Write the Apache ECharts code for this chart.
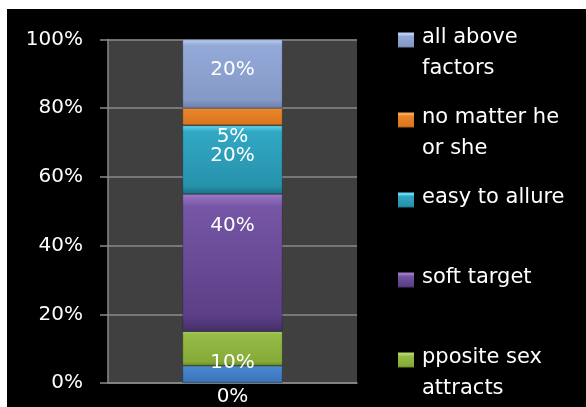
<!DOCTYPE html>
<html>
<head>
<meta charset="utf-8">
<script src="https://cdn.jsdelivr.net/npm/echarts@6/dist/echarts.min.js"></script>
<style>
  html, body { margin: 0; padding: 0; background: #fff; width: 586px; height: 407px; overflow: hidden; }
  #chart { position: absolute; left: 7px; top: 9px; width: 579px; height: 398px; background: #000; }
</style>
</head>
<body>
<div id="chart"></div>
<script>
// Single 100% stacked column, segments listed bottom to top
const categories = ['0%'];
const seriesNames = ['other', 'pposite sex\nattracts', 'soft target', 'easy to allure', 'no matter he\nor she', 'all above\nfactors'];
const otherValues = [5];
const oppositeSexValues = [10];
const softTargetValues = [40];
const easyToAllureValues = [20];
const noMatterValues = [5];
const allAboveValues = [20];
const yMin = 0, yMax = 100, yStep = 20;

const FONT = 'DejaVu Sans';

// bevelled look: light top edge, darker bottom edge
function bevel(c, s) {
  s = s || 1;
  return new echarts.graphic.LinearGradient(0, 0, 0, 1, [
    { offset: 0, color: c[0] },
    { offset: 0.09 * s, color: c[1] },
    { offset: 0.88 * s, color: c[2] },
    { offset: 1 * s, color: c[3] }
  ]);
}

const palettes = [
  ['#79b0f0', '#4a88d2', '#3b74bb', '#2a5a96'],
  ['#b4d46a', '#96bb46', '#86aa38', '#66862a'],
  ['#9b78c8', '#7656a6', '#5c3f86', '#45306a'],
  ['#64d6ee', '#31a8c3', '#2792ac', '#1c7186'],
  ['#f7a656', '#e8842a', '#dc7620', '#b25c12'],
  ['#b8cdf2', '#93a9d8', '#8599c6', '#6b7fa8']
];
const labelShift = [0, 14, -37, -4, 20, -4];
const labelShown = [false, true, true, true, true, true];

const values = [otherValues, oppositeSexValues, softTargetValues, easyToAllureValues, noMatterValues, allAboveValues];

const series = seriesNames.map((name, i) => ({
  name: name,
  type: 'bar',
  stack: 'total',
  barWidth: 100,
  data: values[i],
  itemStyle: { color: bevel(palettes[i]), borderColor: 'rgba(0,0,0,0.35)', borderWidth: 0.6 },
  label: {
    show: labelShown[i],
    position: 'inside',
    offset: [0, labelShift[i]],
    formatter: '{c}%',
    color: '#fff',
    fontFamily: FONT,
    fontSize: 20,
    textBorderWidth: 0
  },
  emphasis: { disabled: true }
}));

// legend swatch sits at the top of a taller item box so it lines up with the first text line
const ICON_H = 46;
const legendIcon = 'path://M0,0L0.01,0M0,2H16V17H0ZM16,' + ICON_H + 'L15.99,' + ICON_H;
const legendItems = [];
for (let i = seriesNames.length - 1; i >= 1; i--) {
  legendItems.push({
    name: seriesNames[i],
    itemStyle: {
      color: new echarts.graphic.LinearGradient(0, 0, 0, 1, [
        { offset: 0, color: palettes[i][0] },
        { offset: 0.09, color: palettes[i][0] },
        { offset: 0.12, color: palettes[i][1] },
        { offset: 0.33, color: palettes[i][2] },
        { offset: 0.37, color: palettes[i][3] },
        { offset: 1, color: palettes[i][3] }
      ]),
      borderWidth: 0
    }
  });
}

const chart = echarts.init(document.getElementById('chart'), null, { renderer: 'canvas' });
chart.setOption({
  backgroundColor: '#000',
  animation: false,
  grid: {
    left: 101, right: 229, top: 30.5, bottom: 23.5,
    show: true, backgroundColor: '#404040', borderWidth: 0,
    containLabel: false
  },
  xAxis: {
    type: 'category',
    data: categories,
    axisLine: { show: true, lineStyle: { color: '#8a8a8a', width: 1.5 } },
    axisTick: { show: false },
    axisLabel: { color: '#fff', fontFamily: FONT, fontSize: 20, margin: 4 }
  },
  yAxis: {
    type: 'value',
    min: yMin, max: yMax, interval: yStep,
    axisLine: { show: true, lineStyle: { color: '#8a8a8a', width: 1.5 } },
    axisTick: { show: true, length: 8, lineStyle: { color: '#8a8a8a', width: 1.5 } },
    splitLine: { show: true, lineStyle: { color: '#8a8a8a', width: 1.5 } },
    axisLabel: { color: '#fff', fontFamily: FONT, fontSize: 20, margin: 25, formatter: v => v + '%' }
  },
  legend: {
    orient: 'vertical',
    left: 391, top: 13.5, height: 600,
    padding: 0,
    itemWidth: 16, itemHeight: ICON_H, itemGap: 18,
    icon: legendIcon,
    selectedMode: false,
    data: legendItems,
    formatter: n => (n.indexOf('\n') >= 0 ? n : n + '\n '),
    textStyle: { color: '#fff', fontFamily: FONT, fontSize: 21, lineHeight: 31, padding: [0, 0, 0, 3] }
  },
  series: series
});
</script>
</body>
</html>
